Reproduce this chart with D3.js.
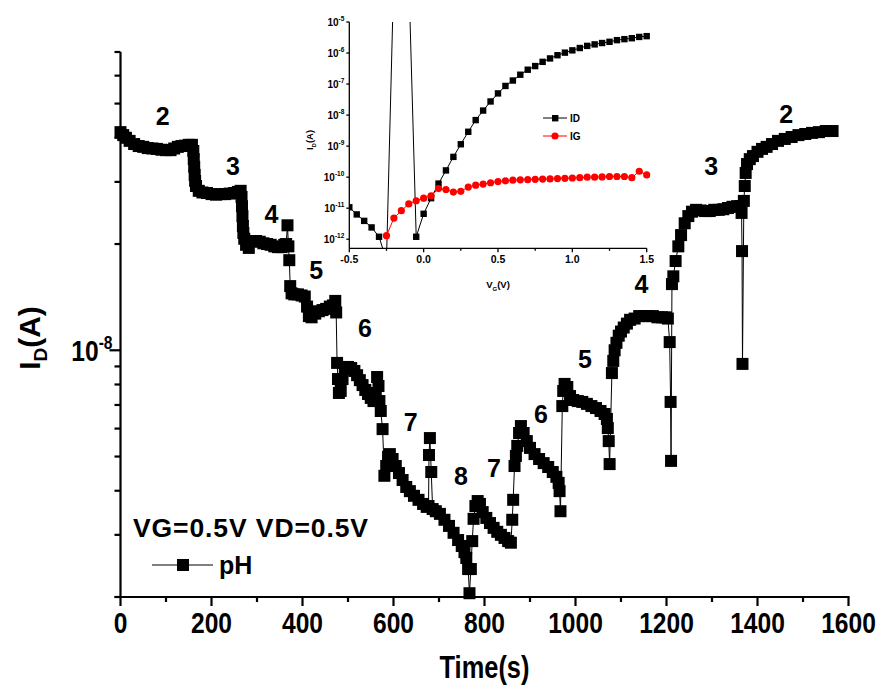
<!DOCTYPE html>
<html><head><meta charset="utf-8">
<script src="https://cdn.jsdelivr.net/npm/d3@7"></script>
<style>
body{margin:0;background:#fff}
svg{display:block}
text{font-family:"Liberation Sans",Arial,sans-serif;font-weight:bold;fill:#000}
</style>
</head><body>
<svg id="c" width="892" height="691"></svg>
<script>
// ---------- main series: time (s) and drain current (A) ----------
const times = [0,6,12,20,30,40,50,60,70,80,90,100,110,118,126,134,142,150,157,
 160,161,162,163,164,166,172,180,190,200,210,220,230,240,250,258,264,
 266,267,268,269,270,272,276,282,290,298,306,314,322,330,338,346,354,360,364,367,369,371,
 373,376,382,390,398,405,410,414,420,428,436,444,452,460,467,472,474,
 476,478,480,484,488,493,500,507,514,520,526,532,538,544,550,556,561,564,567,569,572,576,
 580,584,588,592,598,605,612,620,628,636,645,655,665,673,677,678,680,683,686,693,702,712,722,732,742,750,756,
 760,764,767,770,773,776,780,785,790,796,804,812,820,828,836,844,852,858,
 861,863,866,869,872,876,880,886,893,900,910,920,930,940,950,958,963,965,967,
 971,973,976,982,988,995,1005,1015,1025,1035,1045,1055,1064,1069,1071,1073,1075,
 1080,1083,1086,1090,1095,1100,1106,1113,1120,1130,1140,1150,1160,1170,1180,1190,1198,1203,1207,1209,1210,
 1212,1215,1220,1226,1232,1240,1248,1256,1265,1275,1285,1295,1305,1315,1325,1335,1345,1355,1362,1365,1366,1367,
 1370,1372,1374,1377,1383,1390,1400,1410,1420,1432,1445,1460,1475,1490,1505,1520,1535,1550,1565];
const currents = [4.15e-8,4.07e-8,4.00e-8,3.92e-8,3.84e-8,3.79e-8,3.77e-8,3.74e-8,3.73e-8,3.72e-8,3.70e-8,3.69e-8,3.69e-8,3.73e-8,3.77e-8,3.79e-8,3.80e-8,3.82e-8,3.82e-8,
 3.67e-8,3.48e-8,3.31e-8,3.14e-8,3.02e-8,2.92e-8,2.83e-8,2.80e-8,2.79e-8,2.77e-8,2.76e-8,2.77e-8,2.77e-8,2.78e-8,2.79e-8,2.81e-8,2.83e-8,
 2.72e-8,2.56e-8,2.40e-8,2.25e-8,2.15e-8,2.07e-8,1.99e-8,1.95e-8,2.04e-8,2.04e-8,2.03e-8,2.01e-8,2.00e-8,1.99e-8,1.97e-8,1.96e-8,1.96e-8,1.99e-8,2.00e-8,2.26e-8,1.97e-8,1.80e-8,
 1.52e-8,1.45e-8,1.44e-8,1.44e-8,1.43e-8,1.42e-8,1.33e-8,1.25e-8,1.24e-8,1.27e-8,1.29e-8,1.30e-8,1.31e-8,1.33e-8,1.34e-8,1.38e-8,1.28e-8,
 9.21e-9,8.29e-9,7.57e-9,7.67e-9,8.29e-9,8.85e-9,8.97e-9,8.91e-9,8.74e-9,8.50e-9,8.23e-9,7.97e-9,7.72e-9,7.52e-9,7.33e-9,7.18e-9,7.57e-9,8.40e-9,7.92e-9,7.18e-9,6.73e-9,5.98e-9,
 4.41e-9,4.70e-9,4.99e-9,5.08e-9,4.92e-9,4.70e-9,4.49e-9,4.29e-9,4.10e-9,3.99e-9,3.87e-9,3.77e-9,3.67e-9,3.60e-9,3.62e-9,5.05e-9,5.64e-9,4.52e-9,3.55e-9,3.50e-9,3.44e-9,3.31e-9,3.18e-9,3.04e-9,2.90e-9,2.79e-9,2.68e-9,
 2.58e-9,2.40e-9,2.05e-9,2.40e-9,2.88e-9,3.33e-9,3.62e-9,3.74e-9,3.67e-9,3.48e-9,3.35e-9,3.24e-9,3.14e-9,3.06e-9,3.00e-9,2.94e-9,2.88e-9,2.85e-9,
 3.31e-9,3.77e-9,4.70e-9,5.02e-9,5.36e-9,5.83e-9,6.10e-9,5.83e-9,5.53e-9,5.29e-9,5.08e-9,4.92e-9,4.79e-9,4.67e-9,4.52e-9,4.38e-9,4.21e-9,3.99e-9,3.50e-9,
 6.95e-9,7.67e-9,8.03e-9,7.87e-9,7.42e-9,7.23e-9,7.18e-9,7.14e-9,7.05e-9,6.95e-9,6.86e-9,6.73e-9,6.60e-9,6.39e-9,6.02e-9,5.53e-9,4.76e-9,
 8.62e-9,9.33e-9,1.00e-8,1.05e-8,1.10e-8,1.13e-8,1.16e-8,1.19e-8,1.22e-8,1.23e-8,1.25e-8,1.25e-8,1.25e-8,1.25e-8,1.24e-8,1.24e-8,1.24e-8,1.23e-8,1.055e-8,7.14e-9,4.86e-9,
 1.54e-8,1.62e-8,1.79e-8,1.97e-8,2.12e-8,2.29e-8,2.40e-8,2.47e-8,2.50e-8,2.49e-8,2.48e-8,2.48e-8,2.50e-8,2.50e-8,2.51e-8,2.53e-8,2.55e-8,2.56e-8,2.56e-8,2.45e-8,1.91e-8,9.15e-9,
 2.65e-8,2.92e-8,3.18e-8,3.37e-8,3.48e-8,3.55e-8,3.65e-8,3.72e-8,3.77e-8,3.84e-8,3.92e-8,3.97e-8,4.02e-8,4.07e-8,4.10e-8,4.13e-8,4.15e-8,4.18e-8,4.18e-8];

// pH annotations (text, time, current)
const phText = ["2","3","4","5","6","7","8","7","6","5","4","3","2"];
const phTime = [93,247,332,430,537,638,748,821,924,1021,1145,1298,1463];
const phCurr = [4.61e-8,3.33e-8,2.43e-8,1.69e-8,1.157e-8,6.27e-9,4.41e-9,4.63e-9,6.6e-9,9.45e-9,1.54e-8,3.33e-8,4.66e-8];

// main axis ticks
const xTicks = [0,200,400,600,800,1000,1200,1400,1600];
const xMinorTicks = [100,300,500,700,900,1100,1300,1500];
const yMinorTicks = [2e-9,3e-9,4e-9,5e-9,6e-9,7e-9,8e-9,9e-9,2e-8,3e-8,4e-8,5e-8,6e-8,7e-8];
const yMajorTicks = [1e-8];

// ---------- inset: transfer curve ----------
const vgID = [-0.5,-0.45,-0.4,-0.35,-0.3,-0.25,-0.2,-0.15,-0.1,-0.05,0,0.05,0.1,0.15,0.2,0.25,0.3,0.35,0.4,0.45,0.5,
 0.55,0.6,0.65,0.7,0.75,0.8,0.85,0.9,0.95,1.0,1.05,1.1,1.15,1.2,1.25,1.3,1.35,1.4,1.45,1.5];
const idValues = [1.07e-11,6.3e-12,3.9e-12,2.4e-12,1.2e-12,2.1e-13,4.5e-4,5e-4,3e-4,1.2e-12,6.6e-12,2.1e-11,6.2e-11,1.65e-10,4.5e-10,1.15e-9,2.9e-9,6.9e-9,1.4e-8,2.75e-8,5e-8,
 8.7e-8,1.3e-7,2e-7,2.9e-7,3.8e-7,5.2e-7,6.7e-7,8.5e-7,1.03e-6,1.22e-6,1.45e-6,1.7e-6,1.9e-6,2.1e-6,2.3e-6,2.6e-6,2.8e-6,3.0e-6,3.3e-6,3.5e-6];
const vgIG = [-0.25,-0.2,-0.15,-0.1,-0.05,0,0.05,0.1,0.15,0.2,0.25,0.3,0.35,0.4,0.45,0.5,0.55,0.6,0.65,0.7,0.75,
 0.8,0.85,0.9,0.95,1.0,1.05,1.1,1.15,1.2,1.25,1.3,1.35,1.4,1.45,1.5];
const igValues = [1.3e-12,4.8e-12,8.3e-12,1.37e-11,1.74e-11,2.1e-11,2.5e-11,4.3e-11,4.0e-11,3.3e-11,3.5e-11,4.8e-11,5.5e-11,6.0e-11,6.6e-11,7.2e-11,
 7.6e-11,8.0e-11,8.2e-11,8.3e-11,8.5e-11,8.7e-11,8.8e-11,9.0e-11,9.2e-11,9.4e-11,9.6e-11,1.0e-10,1.0e-10,1.02e-10,1.05e-10,1.05e-10,1.05e-10,9.6e-11,1.55e-10,1.18e-10];
const insetXTicks = [-0.5,-0.25,0,0.25,0.5,0.75,1.0,1.25,1.5];
const insetXLabels = ["-0.5","0.0","0.5","1.0","1.5"];
const insetYExp = [-12,-11,-10,-9,-8,-7,-6,-5];

// ---------- drawing ----------
const svg = d3.select("#c");
const x = d3.scaleLinear().domain([0,1600]).range([120.5,848.5]);
const y = d3.scaleLog().domain([2e-9,7e-8]).range([597,52]);
const NARROW = 0.82;

// axes lines
const ax = svg.append("g").attr("stroke","#000").attr("stroke-width",2.2);
ax.append("line").attr("x1",x(0)).attr("x2",x(0)).attr("y1",y(7e-8)).attr("y2",y(2e-9)+1);
ax.append("line").attr("x1",x(0)-6).attr("x2",x(1600)+1).attr("y1",y(2e-9)).attr("y2",y(2e-9));
yMinorTicks.forEach(v=>ax.append("line").attr("x1",x(0)-6).attr("x2",x(0)).attr("y1",y(v)).attr("y2",y(v)));
yMajorTicks.forEach(v=>ax.append("line").attr("x1",x(0)-11).attr("x2",x(0)).attr("y1",y(v)).attr("y2",y(v)));
xTicks.forEach(v=>ax.append("line").attr("x1",x(v)).attr("x2",x(v)).attr("y1",y(2e-9)).attr("y2",y(2e-9)+9));
xMinorTicks.forEach(v=>ax.append("line").attr("x1",x(v)).attr("x2",x(v)).attr("y1",y(2e-9)).attr("y2",y(2e-9)+5));

// tick labels (condensed)
svg.append("g").selectAll("text").data(xTicks).join("text")
  .attr("transform",d=>`translate(${x(d)},${y(2e-9)+36}) scale(${NARROW},1)`)
  .attr("text-anchor","middle").attr("font-size",30).text(d=>d);
const yl = svg.append("text").attr("transform",`translate(${x(0)-8},${y(1e-8)+11}) scale(${NARROW},1)`)
  .attr("text-anchor","end").attr("font-size",30);
yl.append("tspan").text("10");
yl.append("tspan").attr("font-size",19).attr("dy",-12).text("-8");

// axis titles
svg.append("text").attr("transform",`translate(${(x(0)+x(1600))/2},678) scale(${NARROW},1)`)
  .attr("text-anchor","middle").attr("font-size",31).text("Time(s)");
const yt = svg.append("text").attr("transform","translate(40,338) rotate(-90)")
  .attr("text-anchor","middle").attr("font-size",30);
yt.append("tspan").text("I");
yt.append("tspan").attr("font-size",19).attr("dy",7).text("D");
yt.append("tspan").attr("dy",-7).text("(A)");

// series line + markers
const pts = times.map((t,i)=>[t,currents[i]]);
svg.append("path").datum(pts).attr("fill","none").attr("stroke","#000").attr("stroke-width",1)
  .attr("d",d3.line().x(d=>x(d[0])).y(d=>y(d[1])));
const ms = 12;
svg.append("g").selectAll("rect").data(pts).join("rect")
  .attr("x",d=>x(d[0])-ms/2).attr("y",d=>y(d[1])-ms/2).attr("width",ms).attr("height",ms).attr("fill","#000");

// pH labels
svg.append("g").selectAll("text").data(phText).join("text")
  .attr("x",(d,i)=>x(phTime[i])).attr("y",(d,i)=>y(phCurr[i])).attr("dy","0.36em")
  .attr("text-anchor","middle").attr("font-size",25).text(d=>d);

// condition text + legend
svg.append("text").attr("x",133).attr("y",537).attr("font-size",26.5).attr("letter-spacing",0.9).text("VG=0.5V VD=0.5V");
svg.append("line").attr("x1",152).attr("x2",213).attr("y1",565).attr("y2",565).attr("stroke","#000").attr("stroke-width",1);
svg.append("rect").attr("x",183-ms/2).attr("y",565-ms/2).attr("width",ms).attr("height",ms).attr("fill","#000");
svg.append("text").attr("x",219).attr("y",574).attr("font-size",25).text("pH");

// ---------- inset ----------
const xi = d3.scaleLinear().domain([-0.5,1.5]).range([349.3,646.7]);
const yi = d3.scaleLog().domain([5.1e-13,1e-5]).range([248.3,22]);
const ins = svg.append("g");
ins.append("defs").append("clipPath").attr("id","clipIn").append("rect")
  .attr("x",xi(-0.5)).attr("y",yi(1e-5)).attr("width",xi(1.5)-xi(-0.5)+4).attr("height",yi(5.1e-13)-yi(1e-5));
const ia = ins.append("g").attr("stroke","#000").attr("stroke-width",1.3);
ia.append("line").attr("x1",xi(-0.5)).attr("x2",xi(-0.5)).attr("y1",yi(1e-5)).attr("y2",yi(5.1e-13));
ia.append("line").attr("x1",xi(-0.5)).attr("x2",xi(1.5)).attr("y1",yi(5.1e-13)).attr("y2",yi(5.1e-13));
insetYExp.forEach(e=>ia.append("line").attr("x1",xi(-0.5)-3).attr("x2",xi(-0.5)).attr("y1",yi(Math.pow(10,e))).attr("y2",yi(Math.pow(10,e))));
insetXTicks.forEach(v=>ia.append("line").attr("x1",xi(v)).attr("x2",xi(v)).attr("y1",yi(5.1e-13)).attr("y2",yi(5.1e-13)+(Math.abs(v*2-Math.round(v*2))<1e-9?4:2.5)));
insetYExp.forEach(e=>{
  const t = ins.append("text").attr("x",xi(-0.5)-5).attr("y",yi(Math.pow(10,e))+4).attr("text-anchor","end").attr("font-size",10);
  t.append("tspan").text("10");
  t.append("tspan").attr("font-size",6.5).attr("dy",-5).text(String(e));
});
ins.append("g").selectAll("text").data(insetXLabels).join("text")
  .attr("x",d=>xi(+d)).attr("y",yi(5.1e-13)+15).attr("text-anchor","middle").attr("font-size",10.5).text(d=>d);
const vt = ins.append("text").attr("x",xi(0.5)).attr("y",288).attr("text-anchor","middle").attr("font-size",9.5);
vt.append("tspan").text("V");
vt.append("tspan").attr("font-size",6).attr("dy",3).text("G");
vt.append("tspan").attr("dy",-3).text("(V)");
const it = ins.append("text").attr("transform","translate(313,140) rotate(-90)").attr("text-anchor","middle").attr("font-size",9.5);
it.append("tspan").text("I");
it.append("tspan").attr("font-size",6).attr("dy",3).text("D");
it.append("tspan").attr("dy",-3).text("(A)");

const plot = ins.append("g").attr("clip-path","url(#clipIn)");
const idPts = vgID.map((v,i)=>[v,idValues[i]]);
const igPts = vgIG.map((v,i)=>[v,igValues[i]]);
const li = d3.line().x(d=>xi(d[0])).y(d=>yi(d[1]));
plot.append("path").datum(idPts).attr("fill","none").attr("stroke","#000").attr("stroke-width",1).attr("d",li);
plot.append("g").selectAll("rect").data(idPts).join("rect")
  .attr("x",d=>xi(d[0])-3.2).attr("y",d=>yi(d[1])-3.2).attr("width",6.4).attr("height",6.4).attr("fill","#000");
plot.append("path").datum(igPts).attr("fill","none").attr("stroke","#f00").attr("stroke-width",1).attr("d",li);
plot.append("g").selectAll("circle").data(igPts).join("circle")
  .attr("cx",d=>xi(d[0])).attr("cy",d=>yi(d[1])).attr("r",3.6).attr("fill","#f00");

// inset legend
ins.append("line").attr("x1",543).attr("x2",567).attr("y1",118).attr("y2",118).attr("stroke","#000");
ins.append("rect").attr("x",552).attr("y",115).attr("width",6.4).attr("height",6.4).attr("fill","#000");
ins.append("text").attr("x",570).attr("y",122).attr("font-size",10).text("ID");
ins.append("line").attr("x1",543).attr("x2",567).attr("y1",136).attr("y2",136).attr("stroke","#f00");
ins.append("circle").attr("cx",555).attr("cy",136).attr("r",3.6).attr("fill","#f00");
ins.append("text").attr("x",570).attr("y",140).attr("font-size",10).text("IG");
</script>
</body></html>
